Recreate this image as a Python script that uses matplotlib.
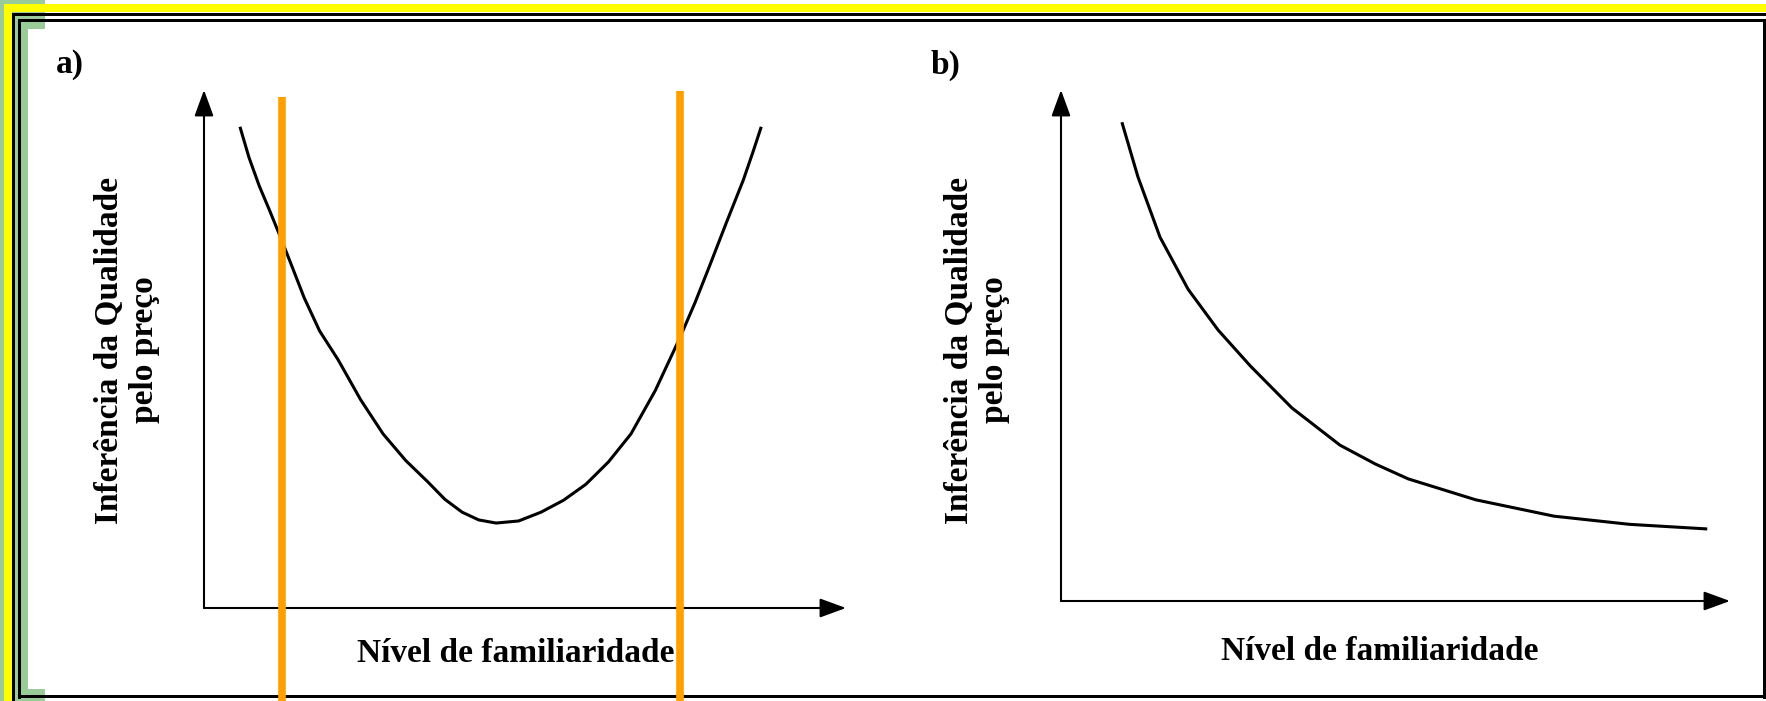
import matplotlib
matplotlib.use("Agg")
import matplotlib.pyplot as plt
from matplotlib.patches import Rectangle, ArrowStyle

# ---------------- data ----------------
panel_labels = ["a)", "b)"]
x_label = "Nível de familiaridade"
y_label = "Inferência da Qualidade\npelo preço"

# panel a: U-shaped curve (arbitrary units 0..10)
a_x = [0.56, 0.70, 0.86, 1.03, 1.22, 1.40, 1.56, 1.80, 2.09, 2.44, 2.79, 3.14,
       3.49, 3.75, 4.02, 4.28, 4.55, 4.90, 5.25, 5.60, 5.95, 6.30, 6.65, 7.03,
       7.41, 7.65, 7.88, 8.14, 8.40, 8.55, 8.68]
a_y = [9.29, 8.70, 8.15, 7.65, 7.07, 6.50, 5.99, 5.35, 4.79, 4.02, 3.36, 2.85,
       2.43, 2.10, 1.85, 1.70, 1.64, 1.68, 1.85, 2.08, 2.39, 2.82, 3.36, 4.20,
       5.21, 5.90, 6.62, 7.45, 8.26, 8.80, 9.29]
# orange reference lines (x positions, top y)
ref_x = [1.22, 7.41]
ref_top = [9.86, 9.98]

# panel b: decreasing convex curve
b_x = [0.91, 1.15, 1.48, 1.90, 2.35, 2.83, 3.45, 4.17, 4.70, 5.19, 6.20, 7.37, 8.50, 9.66]
b_y = [9.37, 8.30, 7.12, 6.10, 5.30, 4.60, 3.78, 3.05, 2.68, 2.39, 1.98, 1.66, 1.50, 1.41]

# ---------------- figure ----------------
W, H = 1766, 701
fig = plt.figure(figsize=(W / 100, H / 100), dpi=100)
fig.patch.set_facecolor("white")

ov = fig.add_axes([0, 0, 1, 1])
ov.set_xlim(0, W)
ov.set_ylim(H, 0)
ov.axis("off")
ov.set_zorder(0)

green = "#99CC99"
yellow = "#FFFF00"
# green decorations
ov.add_patch(Rectangle((0, 0), 45, 29, color=green, lw=0))
ov.add_patch(Rectangle((0, 0), 28, H, color=green, lw=0))
ov.add_patch(Rectangle((0, 689), 45, 12, color=green, lw=0))
# yellow outer band
ov.add_patch(Rectangle((4, 4), 8, H, color=yellow, lw=0))
ov.add_patch(Rectangle((4, 4), W, 8, color=yellow, lw=0))
# black double lines
ov.add_patch(Rectangle((12, 12.5), W, 3, color="black", lw=0))
ov.add_patch(Rectangle((12, 12.5), 3, H, color="black", lw=0))
ov.add_patch(Rectangle((18, 18.5), W, 3, color="black", lw=0))
ov.add_patch(Rectangle((18, 18.5), 3, 680, color="black", lw=0))
ov.add_patch(Rectangle((1763, 18.5), 3, 680, color="black", lw=0))
ov.add_patch(Rectangle((18, 695), 1748, 3, color="black", lw=0))

tfont = dict(family="Liberation Serif", fontweight="bold", color="black")
FS = 24
ov.text(56, 65, panel_labels[0], fontsize=FS, ha="left", va="center", **tfont)
ov.text(931, 65, panel_labels[1], fontsize=FS, ha="left", va="center", **tfont)
ov.text(516, 654, x_label, fontsize=FS, ha="center", va="center", **tfont)
ov.text(1380, 652, x_label, fontsize=FS, ha="center", va="center", **tfont)
ov.text(127, 350, y_label, fontsize=FS, ha="center", va="center", rotation=90,
        multialignment="center", linespacing=1.2, **tfont)
ov.text(977, 350, y_label, fontsize=FS, ha="center", va="center", rotation=90,
        multialignment="center", linespacing=1.2, **tfont)


def make_axes(left, right, bottom, top):
    ax = fig.add_axes([left / W, (H - bottom) / H, (right - left) / W, (bottom - top) / H])
    ax.set_xlim(0, 10)
    ax.set_ylim(0, 10)
    ax.axis("off")
    ax.patch.set_visible(False)
    style = ArrowStyle("-|>", head_length=1.15, head_width=0.42)
    for xy in [(1, 0), (0, 1)]:
        ax.annotate("", xy=xy, xytext=(0, 0), xycoords="axes fraction",
                    textcoords="axes fraction",
                    arrowprops=dict(arrowstyle=style, mutation_scale=14, lw=1.5,
                                    color="black", shrinkA=0, shrinkB=0))
    return ax


ax_a = make_axes(204, 846, 608, 90)
ax_a.plot(a_x, a_y, color="black", lw=2.2, solid_capstyle="butt")
for xr, yt in zip(ref_x, ref_top):
    ax_a.plot([xr, xr], [yt, -2.0], color="#FFA000", lw=5.5, clip_on=False,
              solid_capstyle="butt", zorder=3)

ax_b = make_axes(1061, 1730, 601, 90)
ax_b.plot(b_x, b_y, color="black", lw=2.2, solid_capstyle="butt")

fig.savefig("out.png", dpi=100)
